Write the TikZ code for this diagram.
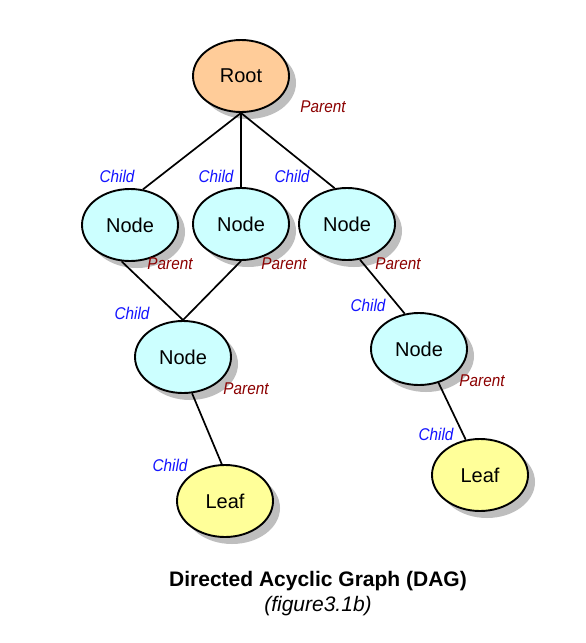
\documentclass[tikz,border=0pt]{standalone}
\usepackage{fontspec}
\setmainfont{Liberation Sans}
\newfontfamily\lblfont[FakeStretch=0.9]{Liberation Sans}
\usetikzlibrary{shapes.geometric,shadows}
\definecolor{rootfill}{RGB}{255,204,153}
\definecolor{nodefill}{RGB}{204,255,255}
\definecolor{leaffill}{RGB}{255,255,153}
\definecolor{childcol}{RGB}{20,20,255}
\definecolor{parentcol}{RGB}{140,0,0}
\definecolor{shadowcol}{RGB}{190,190,190}
\begin{document}
\begin{tikzpicture}[x=1pt,y=-1pt,
  dagnode/.style={ellipse, draw=black, line width=1.9pt, minimum width=96pt, minimum height=72pt, inner sep=0pt,
    font=\fontsize{20}{24}\selectfont,
    drop shadow={shadow xshift=7pt, shadow yshift=-7pt, fill=shadowcol, opacity=1}},
  rootnode/.style={dagnode, fill=rootfill},
  midnode/.style={dagnode, fill=nodefill},
  leafnode/.style={dagnode, fill=leaffill},
  link/.style={line width=1.7pt, black},
  childlbl/.style={text=childcol, font=\lblfont\fontsize{17}{20}\selectfont\itshape, inner sep=0pt},
  parentlbl/.style={text=parentcol, font=\lblfont\fontsize{17}{20}\selectfont\itshape, inner sep=0pt}
]
\useasboundingbox[fill=white] (0,0) rectangle (586,643);

\node[rootnode] (root) at (241,76) {Root};
\node[midnode] (n1) at (130,225) {Node};
\node[midnode] (n2) at (241,224) {Node};
\node[midnode] (n3) at (347,224) {Node};
\node[midnode] (n4) at (183,357) {Node};
\node[midnode] (n5) at (419,349) {Node};
\node[leafnode] (l1) at (225,501) {Leaf};
\node[leafnode] (l2) at (480,475) {Leaf};

\draw[link] (root.south) -- (n1.70);
\draw[link] (root.south) -- (n2.north);
\draw[link] (root.south) -- (n3.109);
\draw[link] (n1.257) -- (n4.north);
\draw[link] (n2.south) -- (n4.north);
\draw[link] (n4.284) -- (l1.95);
\draw[link] (n3.290) -- (n5.112);
\draw[link] (n5.300) -- (l2.112);

\node[parentlbl] (p0) at (323,107) {Parent};
\node[childlbl] (c1) at (117,176) {Child};
\node[childlbl] (c2) at (216,176) {Child};
\node[childlbl] (c3) at (292,176) {Child};
\node[parentlbl] (p1) at (170,264) {Parent};
\node[parentlbl] (p2) at (284,264) {Parent};
\node[parentlbl] (p3) at (398,264) {Parent};
\node[childlbl] (c4) at (132,313) {Child};
\node[childlbl] (c5) at (368,305) {Child};
\node[parentlbl] (p4) at (246,389) {Parent};
\node[parentlbl] (p5) at (482,381) {Parent};
\node[childlbl] (c6) at (170,465) {Child};
\node[childlbl] (c7) at (436,434) {Child};

\node[font=\fontsize{21}{24}\selectfont\bfseries] (title) at (318,581) {Directed Acyclic Graph (DAG)};
\node[font=\fontsize{21}{24}\selectfont\itshape] (sub) at (318,606) {(figure3.1b)};
\end{tikzpicture}
\end{document}
